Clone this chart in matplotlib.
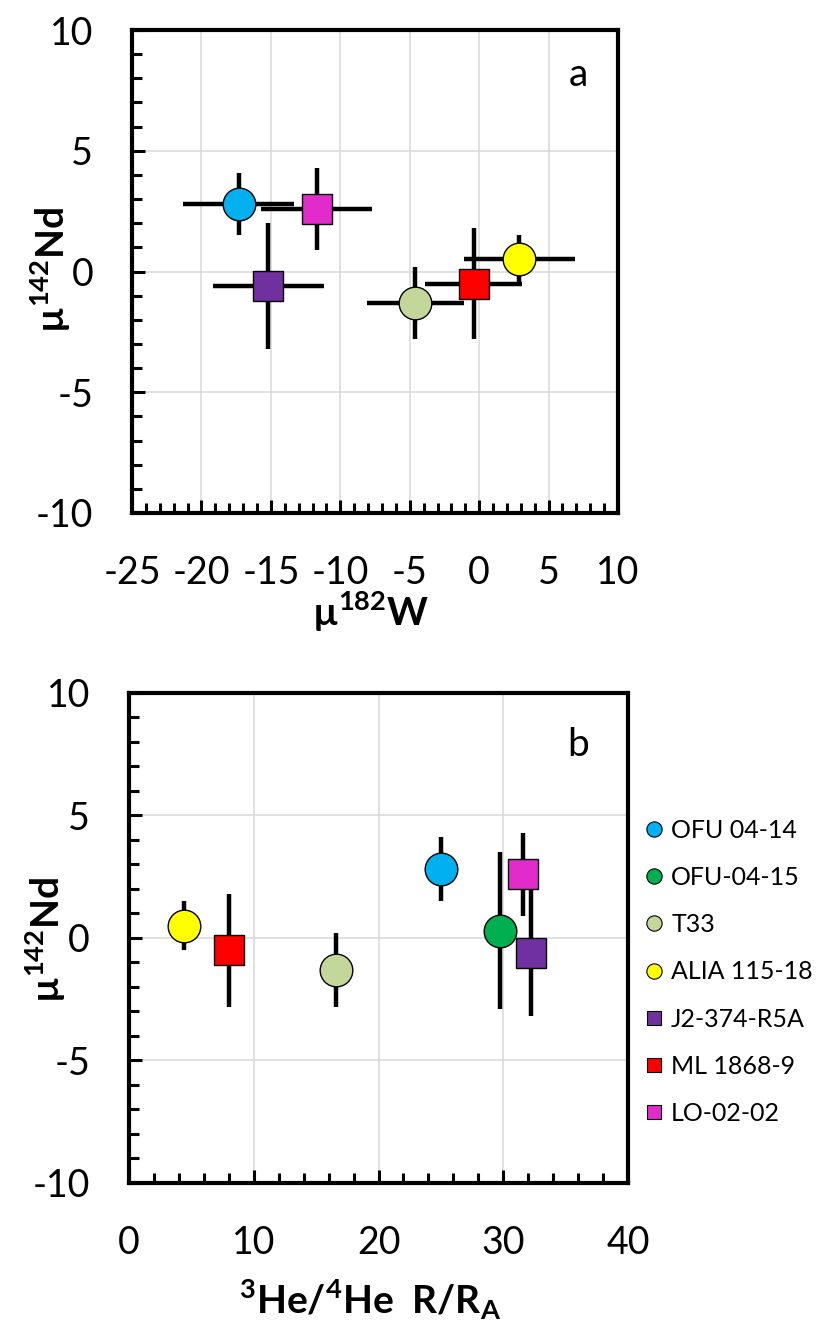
import numpy as np
import matplotlib
matplotlib.use('Agg')
import matplotlib.pyplot as plt
from matplotlib.lines import Line2D
from matplotlib.ticker import MultipleLocator

plt.rcParams['font.family'] = ['Lato', 'DejaVu Sans']
plt.rcParams['mathtext.fontset'] = 'custom'
plt.rcParams['mathtext.rm'] = 'Lato'
plt.rcParams['mathtext.bf'] = 'Lato:bold'
plt.rcParams['axes.unicode_minus'] = False

# sample data
samples = ['OFU 04-14', 'OFU-04-15', 'T33', 'ALIA 115-18', 'J2-374-R5A', 'ML 1868-9', 'LO-02-02']
colors = ['#00B0F0', '#00B050', '#C4D79B', '#FFFF00', '#7030A0', '#FF0000', '#E12BCB']
markers = ['o', 'o', 'o', 'o', 's', 's', 's']
w182 = [-17.3, np.nan, -4.6, 2.9, -15.2, -0.4, -11.7]
w182_err = [4.0, np.nan, 3.5, 4.0, 4.0, 3.5, 4.0]
nd142 = [2.8, 0.3, -1.3, 0.5, -0.6, -0.5, 2.6]
nd142_err = [1.3, 3.2, 1.5, 1.0, 2.6, 2.3, 1.7]
he_ratio = [25.0, 29.7, 16.6, 4.4, 32.2, 8.0, 31.6]

fig = plt.figure(figsize=(8.19, 13.29), dpi=100)
ax1 = fig.add_axes([0.1612, 0.6140, 0.5934, 0.3634])
ax2 = fig.add_axes([0.1575, 0.1099, 0.6093, 0.3687])


def style_axis(ax):
    for s in ax.spines.values():
        s.set_linewidth(3.0)
    ax.tick_params(which='both', direction='in', top=False, right=False, width=2.2)
    ax.tick_params(which='major', length=9.5, labelsize=27)
    ax.tick_params(which='minor', length=7)
    ax.tick_params(axis='y', pad=28)
    ax.tick_params(axis='x', pad=30)
    ax.grid(True, which='major', color='#D9D9D9', linewidth=1.1)
    ax.set_axisbelow(True)


def msize(m):
    return 23.5 if m == 'o' else 22.3


# panel a
for i in range(len(samples)):
    if np.isnan(w182[i]):
        continue
    ax1.errorbar(w182[i], nd142[i], xerr=w182_err[i], yerr=nd142_err[i], fmt='none',
                 ecolor='black', elinewidth=3.2, capsize=0, zorder=2)
for i in range(len(samples)):
    if np.isnan(w182[i]):
        continue
    ax1.plot(w182[i], nd142[i], marker=markers[i], ms=msize(markers[i]), mfc=colors[i],
             mec='black', mew=1.0, ls='none', zorder=3)
ax1.set_xlim(-25, 10)
ax1.set_ylim(-10, 10)
ax1.xaxis.set_major_locator(MultipleLocator(5))
ax1.xaxis.set_minor_locator(MultipleLocator(1))
ax1.yaxis.set_major_locator(MultipleLocator(5))
ax1.yaxis.set_minor_locator(MultipleLocator(1))
style_axis(ax1)
ax1.set_xlabel('µ$^{\\mathbf{182}}$W', fontsize=28, fontweight='bold')
ax1.xaxis.set_label_coords(0.49, -0.205)
ax1.xaxis.label.set_va('center')
ax1.set_ylabel('µ$^{\\mathbf{142}}$Nd', fontsize=28, fontweight='bold')
ax1.yaxis.set_label_coords(-0.166, 0.503)
ax1.yaxis.label.set_va('center')
ax1.text(0.918, 0.907, 'a', transform=ax1.transAxes, fontsize=28, ha='center', va='center')

# panel b
for i in range(len(samples)):
    ax2.errorbar(he_ratio[i], nd142[i], yerr=nd142_err[i], fmt='none',
                 ecolor='black', elinewidth=3.2, capsize=0, zorder=2)
for i in range(len(samples)):
    ax2.plot(he_ratio[i], nd142[i], marker=markers[i], ms=msize(markers[i]), mfc=colors[i],
             mec='black', mew=1.0, ls='none', zorder=3)
ax2.set_xlim(0, 40)
ax2.set_ylim(-10, 10)
ax2.xaxis.set_major_locator(MultipleLocator(10))
ax2.xaxis.set_minor_locator(MultipleLocator(2))
ax2.yaxis.set_major_locator(MultipleLocator(5))
ax2.yaxis.set_minor_locator(MultipleLocator(1))
style_axis(ax2)
ax2.set_xlabel('$^{\\mathbf{3}}$He/$^{\\mathbf{4}}$He  R/R$_{\\mathbf{A}}$', fontsize=28, fontweight='bold')
ax2.xaxis.set_label_coords(0.483, -0.239)
ax2.xaxis.label.set_va('center')
ax2.set_ylabel('µ$^{\\mathbf{142}}$Nd', fontsize=28, fontweight='bold')
ax2.yaxis.set_label_coords(-0.166, 0.496)
ax2.yaxis.label.set_va('center')
ax2.text(0.90, 0.894, 'b', transform=ax2.transAxes, fontsize=28, ha='center', va='center')

handles = [Line2D([], [], marker=m, ms=(11 if m == 'o' else 10.5), mfc=c, mec='black',
                  mew=0.8, ls='none') for m, c in zip(markers, colors)]
fig.legend(handles, samples, loc='upper left', bbox_to_anchor=(0.786, 0.384),
           frameon=False, fontsize=18, handlelength=0.8, handletextpad=0.3,
           labelspacing=0.97, borderpad=0, borderaxespad=0)

fig.savefig('out.png', dpi=100)
